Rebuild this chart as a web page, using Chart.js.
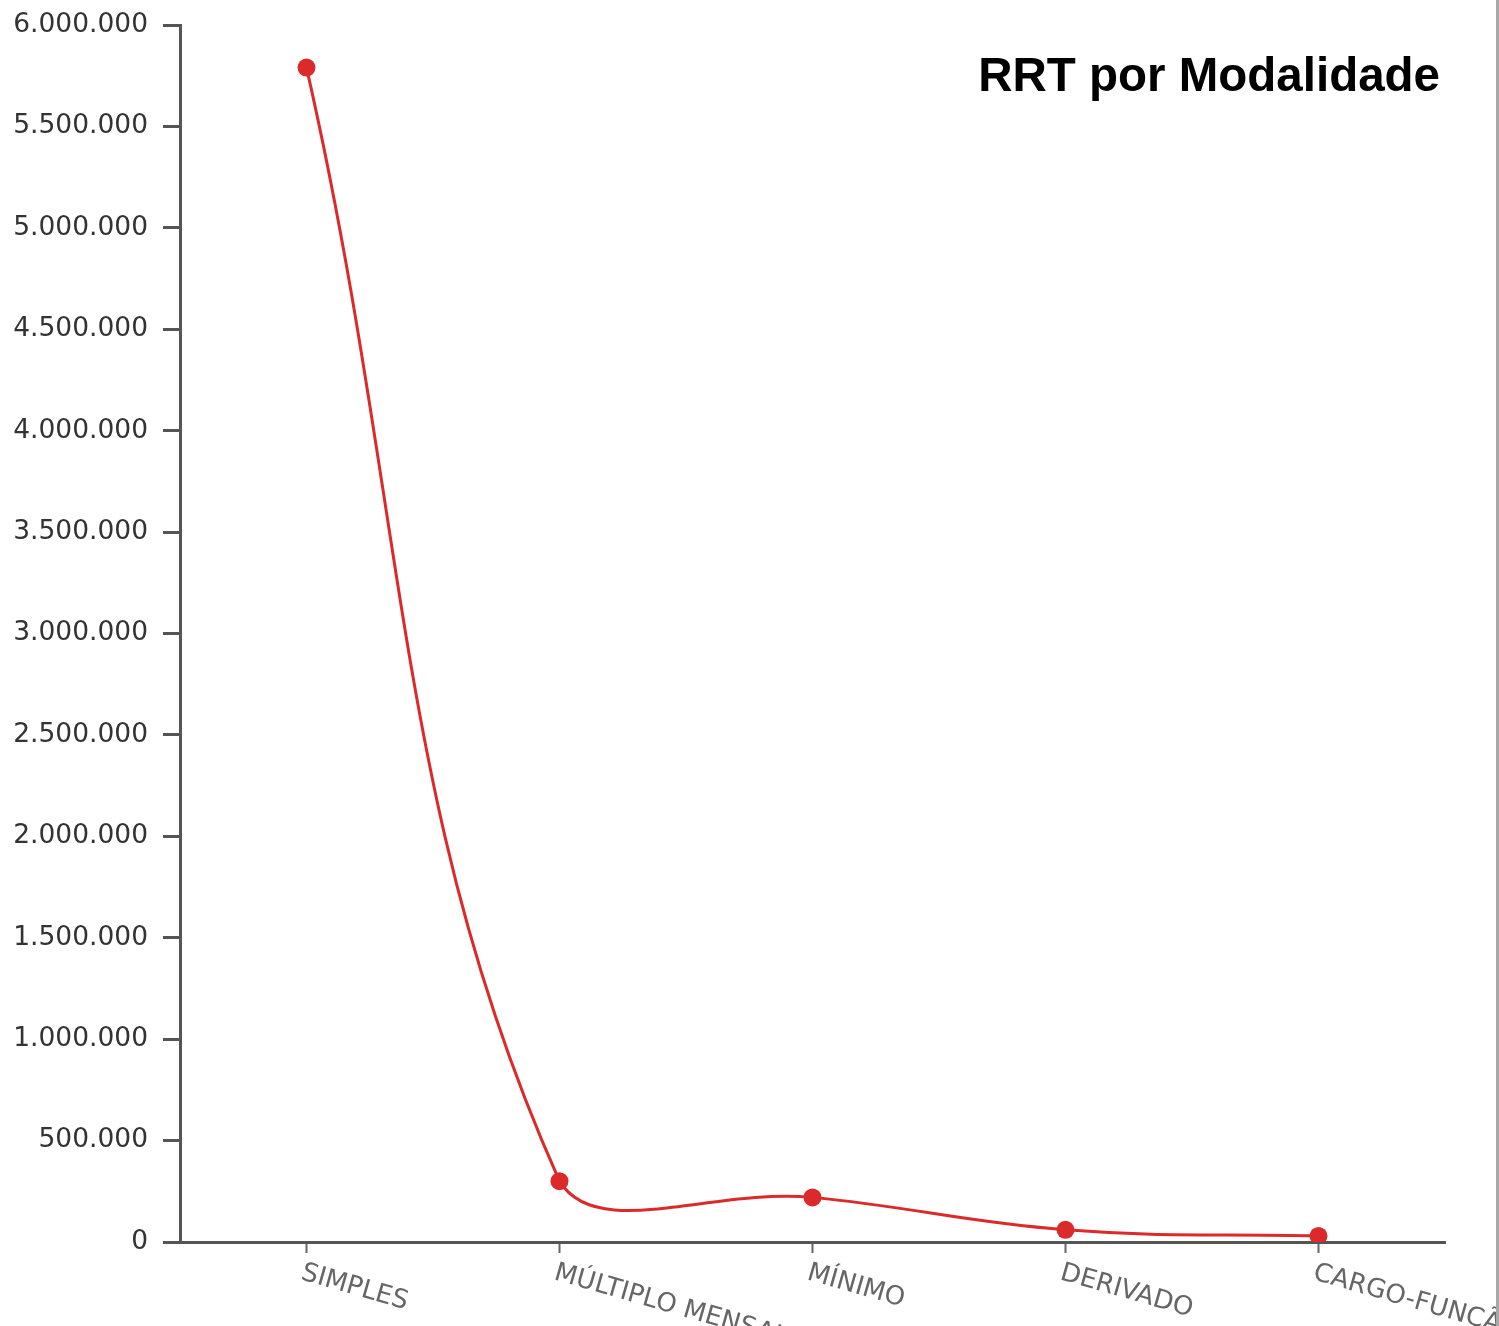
<!DOCTYPE html>
<html>
<head>
<meta charset="utf-8">
<title>RRT por Modalidade</title>
<script src="https://cdn.jsdelivr.net/npm/chart.js@4.4.1/dist/chart.umd.min.js"></script>
<style>
  html, body { margin: 0; padding: 0; background: #fff; }
  #wrap { width: 1496px; height: 1326px; border-right: 3px solid #a8a8a8; overflow: hidden; }
  canvas { display: block; }
</style>
</head>
<body>
<div id="wrap">
  <canvas id="rrtChart" width="1496" height="1326"></canvas>
</div>
<script>
const chartTitle = "RRT por Modalidade"
const modalidades = ["SIMPLES", "MÚLTIPLO MENSAL", "MÍNIMO", "DERIVADO", "CARGO-FUNÇÃO"]
const totalRRT = [5790000, 300000, 220000, 60000, 30000]
const yTicksMax = 6000000
const yTicksStep = 500000

const axisColor = "#555555"
const lineColor = "#dc2a2a"

// separador de milhar no formato brasileiro
function formatBR(value) {
  return String(Math.round(value)).replace(/\B(?=(\d{3})+(?!\d))/g, ".")
}

// rótulos do eixo x inclinados para baixo e para a direita
const slantedLabels = {
  id: "slantedLabels",
  afterDraw(chart) {
    const scale = chart.scales.x
    const ctx = chart.ctx
    ctx.save()
    ctx.font = "26px 'DejaVu Sans', Verdana, sans-serif"
    ctx.fillStyle = "#666666"
    ctx.textAlign = "left"
    ctx.textBaseline = "top"
    scale.ticks.forEach((tick, i) => {
      const x = scale.getPixelForTick(i)
      ctx.save()
      ctx.translate(x - 1, scale.top + 18)
      ctx.rotate((16 * Math.PI) / 180)
      ctx.fillText(modalidades[i], 0, 0)
      ctx.restore()
    })
    ctx.restore()
  },
}

const cornerTitle = {
  id: "cornerTitle",
  afterDraw(chart) {
    const ctx = chart.ctx
    ctx.save()
    ctx.font = "bold 47.5px 'Liberation Sans', Arial, sans-serif"
    ctx.fillStyle = "#000000"
    ctx.textAlign = "right"
    ctx.textBaseline = "alphabetic"
    ctx.fillText(chartTitle, 1440, 91)
    ctx.restore()
  },
}

const ctx = document.getElementById("rrtChart").getContext("2d")

new Chart(ctx, {
  type: "line",
  data: {
    labels: modalidades,
    datasets: [
      {
        label: chartTitle,
        data: totalRRT,
        borderColor: lineColor,
        backgroundColor: lineColor,
        borderWidth: 3,
        pointRadius: 9,
        pointBackgroundColor: lineColor,
        pointBorderWidth: 0,
        tension: 0.4,
        fill: false,
      },
    ],
  },
  options: {
    responsive: false,
    animation: false,
    devicePixelRatio: 1,
    layout: {
      padding: { top: 25, right: 51, left: 0, bottom: 0 },
    },
    plugins: {
      legend: { display: false },
      title: { display: false },
      tooltip: { enabled: false },
    },
    scales: {
      x: {
        type: "category",
        offset: true,
        afterFit: (scale) => {
          scale.height = 84
        },
        border: { color: axisColor, width: 3 },
        grid: {
          offset: false,
          drawOnChartArea: false,
          drawTicks: true,
          tickLength: 11,
          tickColor: "#666666",
          tickWidth: 2,
        },
        ticks: { display: false },
      },
      y: {
        min: 0,
        max: yTicksMax,
        afterFit: (scale) => {
          scale.width = 180
          // o rótulo do topo não deve empurrar a área do gráfico
          scale.paddingTop = 0
          scale.paddingBottom = 0
        },
        border: { color: axisColor, width: 3 },
        grid: {
          drawOnChartArea: false,
          drawTicks: true,
          tickLength: 17,
          tickColor: axisColor,
          tickWidth: 3,
        },
        ticks: {
          stepSize: yTicksStep,
          padding: 15,
          color: "#333333",
          font: { family: "'DejaVu Sans', Verdana, sans-serif", size: 26.5 },
          callback: (value) => formatBR(value),
        },
      },
    },
  },
  plugins: [slantedLabels, cornerTitle],
})
</script>
</body>
</html>
